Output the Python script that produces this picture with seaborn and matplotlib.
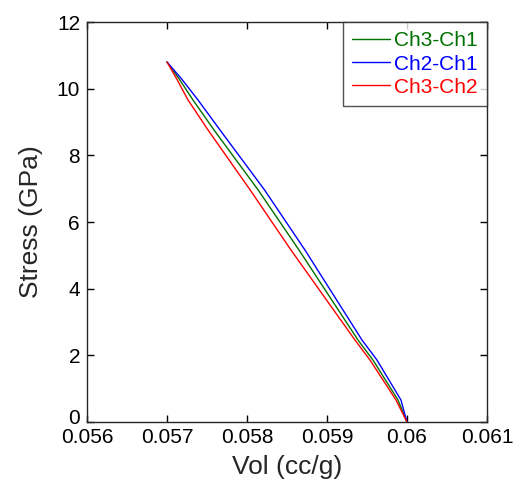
import numpy as np
import pandas as pd
import matplotlib
matplotlib.use("Agg")
import matplotlib.pyplot as plt
import matplotlib.transforms as mtransforms
import seaborn as sns

stress = [10.8, 10.3, 9.66, 8.76, 6.96, 5.16, 2.46, 1.86, 0.66, 0.0]

# specific volume (cc/g) for each pair of channels
vol_ch3_ch1 = [0.05700, 0.057150, 0.057325, 0.057588, 0.05814, 0.05865, 0.059388, 0.059575, 0.059888, 0.06000]
vol_ch2_ch1 = [0.05700, 0.057180, 0.057388, 0.057663, 0.05822, 0.058725, 0.059438, 0.059625, 0.059925, 0.06000]
vol_ch3_ch2 = [0.05700, 0.057120, 0.057263, 0.057513, 0.05804, 0.05855, 0.059350, 0.059538, 0.059863, 0.06000]

series_names = ["Ch3-Ch1", "Ch2-Ch1", "Ch3-Ch2"]
series_colors = ["#007000", "#0000ff", "#ff0000"]

x_ticks = [0.056, 0.057, 0.058, 0.059, 0.06, 0.061]
x_tick_labels = ["0.056", "0.057", "0.058", "0.059", "0.06", "0.061"]
y_ticks = [0, 2, 4, 6, 8, 10, 12]

frames = []
for name, vols in zip(series_names, [vol_ch3_ch1, vol_ch2_ch1, vol_ch3_ch2]):
    frames.append(pd.DataFrame({"vol": vols, "stress": stress, "pair": name}))
df = pd.concat(frames, ignore_index=True)

sns.set_style("white")
plt.rcParams["font.family"] = ["Liberation Sans", "DejaVu Sans"]

fig = plt.figure(figsize=(5.18, 4.95), dpi=100)
ax = fig.add_axes([0.168, 0.1475, 0.772, 0.808])

sns.lineplot(data=df, x="vol", y="stress", hue="pair", hue_order=series_names,
             palette=series_colors, estimator=None, sort=False, linewidth=1.0, ax=ax)

ax.set_xlim(0.056, 0.061)
ax.set_ylim(0, 12)
ax.set_xticks(x_ticks)
ax.set_xticklabels(x_tick_labels)
ax.set_yticks(y_ticks)
ax.tick_params(direction="in", length=5, width=1, labelsize=15, colors="black",
               top=True, right=True, bottom=True, left=True)
ax.tick_params(axis="x", pad=4)
ax.tick_params(axis="y", pad=5)
for sp in ax.spines.values():
    sp.set_visible(True)
    sp.set_color("#262626")
    sp.set_linewidth(1.0)

# lift the "0" a little so it clears the first x label, like the original
zero_lbl = ax.get_yticklabels()[0]
zero_lbl.set_transform(zero_lbl.get_transform() +
                       mtransforms.ScaledTranslation(0, 5 / 100, fig.dpi_scale_trans))

ax.set_xlabel("Vol (cc/g)", fontsize=19, labelpad=6)
ax.set_ylabel("Stress (GPa)", fontsize=19, labelpad=10)

leg = ax.legend(loc="upper right", fontsize=15, frameon=True, fancybox=False,
                edgecolor="#262626", borderaxespad=0, handlelength=1.8,
                handletextpad=0.2, labelspacing=0.2, borderpad=0.45)
leg.get_frame().set_linewidth(1.0)
for txt, col in zip(leg.get_texts(), series_colors):
    txt.set_color(col)

fig.savefig("out.png", dpi=100)
